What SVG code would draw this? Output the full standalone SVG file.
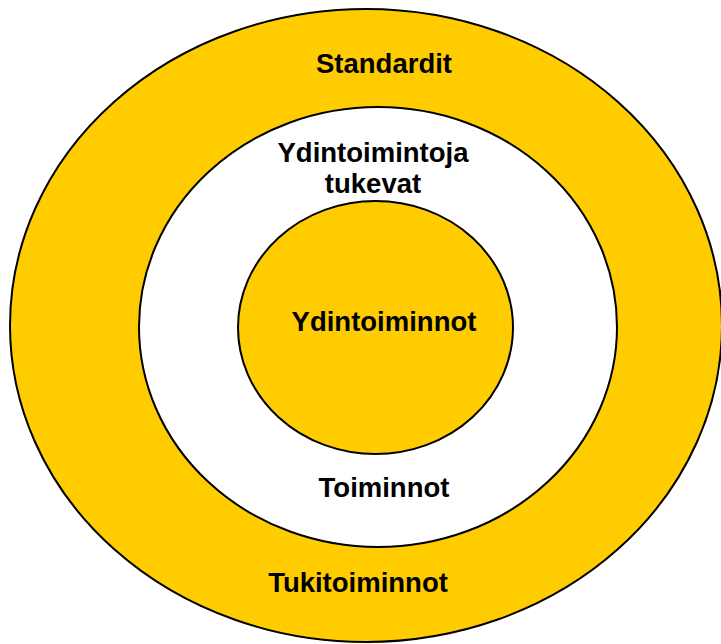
<svg xmlns="http://www.w3.org/2000/svg" width="721" height="644" viewBox="0 0 721 644">
<style>
.ring{stroke:#000;stroke-width:2}
.y{fill:#FFCC00}
.w{fill:#FFFFFF}
text{font-family:"Liberation Sans",Arial,sans-serif;font-weight:bold;font-size:27.5px;fill:#000;text-anchor:middle}
</style>
<rect width="721" height="644" fill="#fff"/>
<g id="outer">
<ellipse class="ring y" cx="366" cy="325.5" rx="356" ry="316.5"/>
<text x="384" y="73">Standardit</text>
<text x="358" y="592">Tukitoiminnot</text>
</g>
<g id="middle">
<ellipse class="ring w" cx="378" cy="327" rx="239" ry="220"/>
<text x="373" y="162">Ydintoimintoja</text>
<text x="373" y="193">tukevat</text>
<text x="384" y="497">Toiminnot</text>
</g>
<g id="inner">
<ellipse class="ring y" cx="375.5" cy="327.5" rx="137.5" ry="126.5"/>
<text x="384" y="331">Ydintoiminnot</text>
</g>
<g id="connectors"></g>
</svg>
